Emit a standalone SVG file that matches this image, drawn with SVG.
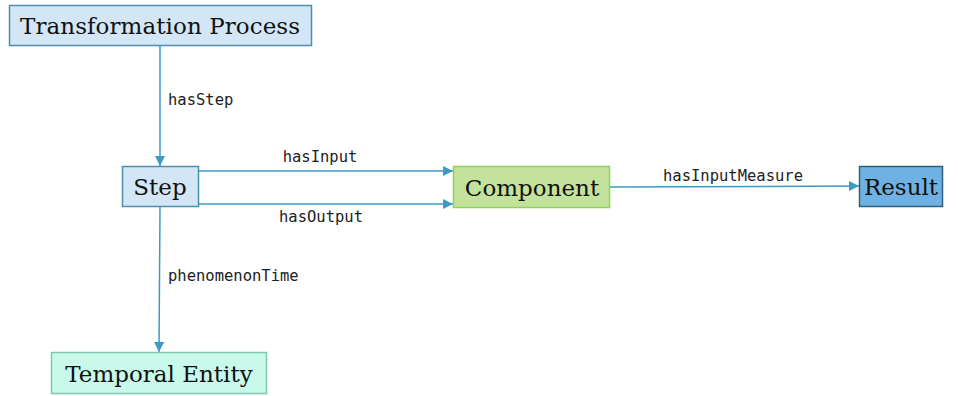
<svg xmlns="http://www.w3.org/2000/svg" width="958" height="396" viewBox="0 0 958 396">
  <defs>
    <marker id="arrow" viewBox="0 0 10 10" refX="10" refY="5" markerWidth="10" markerHeight="10" markerUnits="userSpaceOnUse" orient="auto">
      <path d="M0,0 L10,5 L0,10 z" fill="#3d9ac4"/>
    </marker>
    <style>
      .node-label { font-family: "DejaVu Serif", "Liberation Serif", serif; font-size: 23px; fill: #111; text-anchor: middle; dominant-baseline: central; }
      .edge { stroke: #3d9ac4; stroke-width: 1.5; fill: none; marker-end: url(#arrow); }
      .edge-label { font-family: "DejaVu Sans Mono", "Liberation Mono", monospace; font-size: 15.5px; fill: #222; }
    </style>
  </defs>
  <rect width="958" height="396" fill="#ffffff"/>

  <g id="connectors">
    <line class="edge" x1="160" y1="45" x2="160" y2="166"/>
    <line class="edge" x1="199" y1="171" x2="453" y2="171"/>
    <line class="edge" x1="199" y1="204" x2="453" y2="204"/>
    <line class="edge" x1="610" y1="187" x2="859" y2="186"/>
    <line class="edge" x1="160" y1="206" x2="159" y2="352"/>
    <text class="edge-label" x="168" y="105">hasStep</text>
    <text class="edge-label" x="320" y="162" text-anchor="middle">hasInput</text>
    <text class="edge-label" x="321" y="222" text-anchor="middle">hasOutput</text>
    <text class="edge-label" x="733" y="181" text-anchor="middle">hasInputMeasure</text>
    <text class="edge-label" x="168" y="281">phenomenonTime</text>
  </g>

  <g id="transformation-process">
    <rect x="9.5" y="5.5" width="302" height="40" fill="#d3e6f5" stroke="#4a8eb0" stroke-width="1.5"/>
    <text class="node-label" x="160" y="26" textLength="280">Transformation Process</text>
  </g>
  <g id="step">
    <rect x="122.5" y="166.5" width="76" height="40" fill="#d3e6f5" stroke="#4a8eb0" stroke-width="1.5"/>
    <text class="node-label" x="160" y="187">Step</text>
  </g>
  <g id="component">
    <rect x="453.5" y="166.5" width="156" height="41" fill="#c3e29b" stroke="#8fd45a" stroke-width="1.5"/>
    <text class="node-label" x="532" y="188">Component</text>
  </g>
  <g id="result">
    <rect x="859.5" y="166.5" width="83" height="40" fill="#6fb1e2" stroke="#2f5f80" stroke-width="1.5"/>
    <text class="node-label" x="901" y="187">Result</text>
  </g>
  <g id="temporal-entity">
    <rect x="51.5" y="352.5" width="215" height="41" fill="#c9f9ea" stroke="#7ec8b0" stroke-width="1.5"/>
    <text class="node-label" x="159" y="374">Temporal Entity</text>
  </g>
</svg>
